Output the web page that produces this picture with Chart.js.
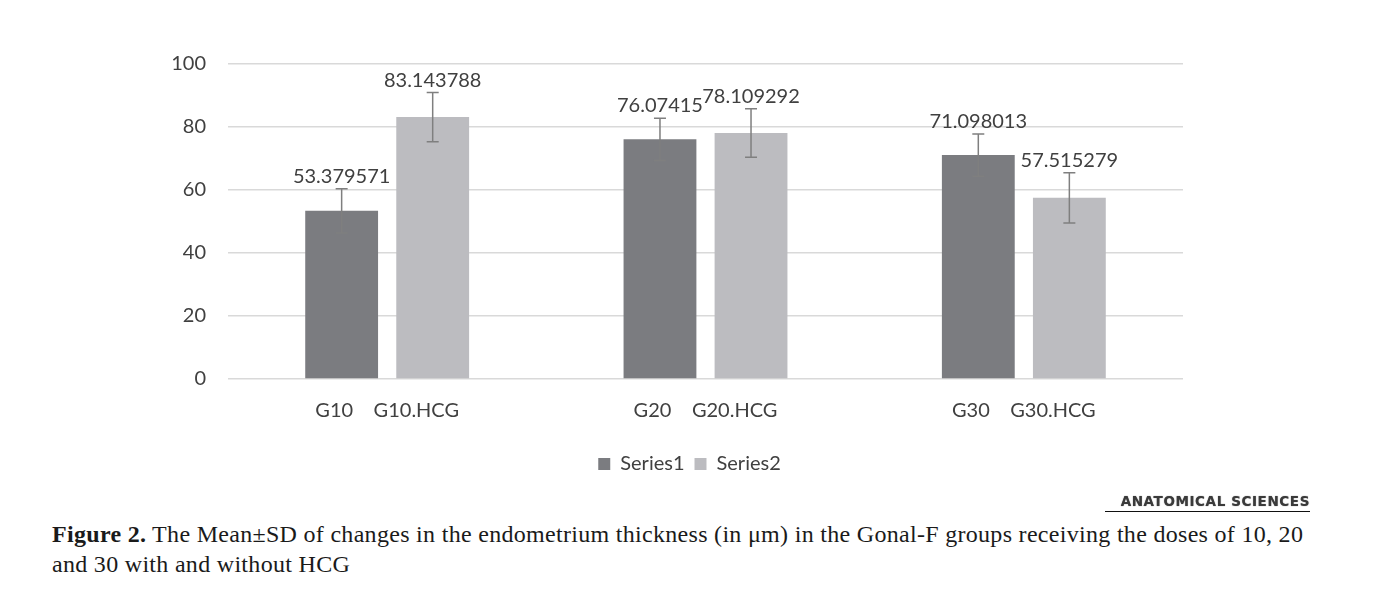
<!DOCTYPE html>
<html>
<head>
<meta charset="utf-8">
<script src="https://cdn.jsdelivr.net/npm/chart.js@4.4.1/dist/chart.umd.min.js"></script>
<style>
  html, body { margin: 0; padding: 0; background: #fff; }
  #wrap { position: relative; width: 1379px; height: 600px; overflow: hidden; }
  #chart { position: absolute; left: 0; top: 0; }
  .logo {
    position: absolute; left: 1105px; top: 493px; width: 205px;
    font-family: "DejaVu Sans", sans-serif; font-weight: bold; font-size: 13.5px;
    color: #3a3a3a; text-align: right; letter-spacing: 0.6px; white-space: nowrap;
    text-shadow: 0 0 1px #666;
    border-bottom: 1.5px solid #111; padding-bottom: 2px; line-height: 16px;
  }
  .caption {
    position: absolute; left: 52px; top: 519px; width: 1320px;
    font-family: "Liberation Serif", serif; font-size: 24px; line-height: 30px;
    letter-spacing: 0.3px; color: #1a1a1a; white-space: nowrap;
  }
</style>
</head>
<body>
<div id="wrap">
  <canvas id="chart" width="1379" height="500"></canvas>
  <div class="logo">ANATOMICAL SCIENCES</div>
  <div class="caption"><b>Figure 2.</b> The Mean±SD of changes in the endometrium thickness (in μm) in the Gonal-F groups receiving the doses of 10, 20<br>and 30 with and without HCG</div>
</div>
<script>
const groups = ["G10    G10.HCG", "G20    G20.HCG", "G30    G30.HCG"];
const series1 = [53.379571, 76.07415, 71.098013];
const series2 = [83.143788, 78.109292, 57.515279];
const sd1 = [7.0, 6.7, 6.7];
const sd2 = [7.8, 7.7, 8.0];
const seriesNames = ["Series1", "Series2"];

// error bars plus the value labels above them
const errorBars = {
  id: "errorBars",
  afterDatasetsDraw(chart) {
    const ctx = chart.ctx;
    const yScale = chart.scales.y;
    const sds = [sd1, sd2];
    chart.data.datasets.forEach((ds, di) => {
      const meta = chart.getDatasetMeta(di);
      meta.data.forEach((bar, i) => {
        const v = ds.data[i];
        const top = yScale.getPixelForValue(v + sds[di][i]);
        const bot = yScale.getPixelForValue(v - sds[di][i]);
        ctx.save();
        ctx.strokeStyle = "#7f7f7f";
        ctx.lineWidth = 1.5;
        ctx.beginPath();
        ctx.moveTo(bar.x, top); ctx.lineTo(bar.x, bot);
        ctx.moveTo(bar.x - 6, top); ctx.lineTo(bar.x + 6, top);
        ctx.moveTo(bar.x - 6, bot); ctx.lineTo(bar.x + 6, bot);
        ctx.stroke();
        ctx.fillStyle = "#404040";
        ctx.font = "20px Lato";
        ctx.textAlign = "center";
        ctx.textBaseline = "alphabetic";
        ctx.fillText(String(v), bar.x, top - 6);
        ctx.restore();
      });
    });
  }
};

new Chart(document.getElementById("chart"), {
  type: "bar",
  data: {
    labels: groups,
    datasets: [
      {
        label: seriesNames[0],
        data: series1,
        backgroundColor: "#7b7c80",
        categoryPercentage: 0.572,
        barPercentage: 0.8,
      },
      {
        label: seriesNames[1],
        data: series2,
        backgroundColor: "#bcbcc0",
        categoryPercentage: 0.572,
        barPercentage: 0.8,
      },
    ],
  },
  options: {
    responsive: false,
    animation: false,
    layout: { padding: { left: 0, right: 0, top: 64, bottom: 16 } },
    plugins: {
      legend: {
        position: "bottom",
        labels: {
          boxWidth: 12,
          boxHeight: 12,
          padding: 10,
          color: "#404040",
          font: { family: "Lato", size: 20 },
        },
      },
      tooltip: { enabled: false },
    },
    scales: {
      y: {
        min: 0,
        max: 100,
        ticks: {
          stepSize: 20,
          padding: 22,
          color: "#404040",
          font: { family: "Lato", size: 20 },
        },
        border: { display: false },
        grid: { color: "#d9d9d9", lineWidth: 1.5, drawTicks: false },
        afterFit(scale) { scale.width = 228; },
      },
      // empty right axis, only used to keep the plot narrower than the legend
      yRight: {
        position: "right",
        ticks: { display: false },
        border: { display: false },
        grid: { display: false, drawTicks: false },
        afterFit(scale) { scale.width = 196; },
      },
      x: {
        ticks: {
          padding: 12,
          color: "#404040",
          font: { family: "Lato", size: 20 },
        },
        border: { display: false },
        grid: { display: false },
        afterFit(scale) { scale.height = 65; },
      },
    },
  },
  plugins: [errorBars],
});
</script>
</body>
</html>
